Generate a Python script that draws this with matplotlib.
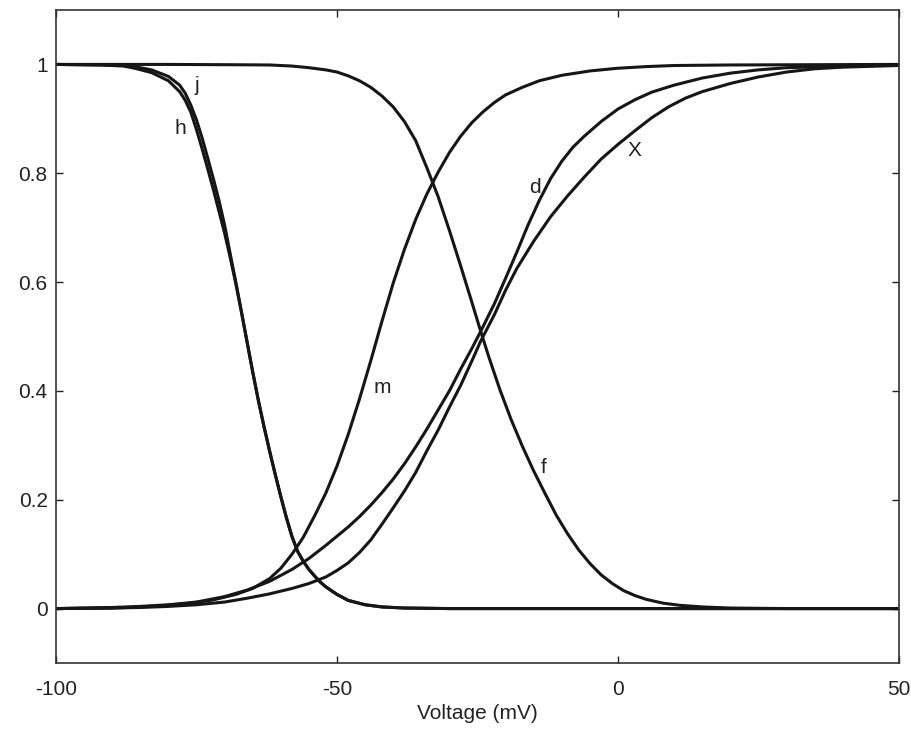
import matplotlib
matplotlib.use("Agg")
import matplotlib.pyplot as plt

# steady-state gating curves (voltage in mV)
h_v = [-100, -92, -88, -86, -83, -80, -78, -77, -76, -75, -74, -73, -72, -71,
       -70, -69, -68, -67, -66, -65, -64, -63, -62, -61, -60, -59, -58, -57,
       -56, -55, -54, -53, -52, -50, -48, -45, -42, -38, -30, 50]
h_y = [1.0, 0.999, 0.997, 0.993, 0.985, 0.97, 0.95, 0.934, 0.912, 0.88, 0.845,
       0.808, 0.77, 0.73, 0.69, 0.645, 0.597, 0.545, 0.49, 0.435, 0.383,
       0.335, 0.29, 0.247, 0.206, 0.167, 0.132, 0.105, 0.087, 0.072, 0.06,
       0.049, 0.04, 0.026, 0.015, 0.007, 0.003, 0.001, 0.0, 0.0]

j_v = [-100, -92, -88, -86, -83, -80, -78, -77, -76, -75, -74, -73, -72, -71,
       -70, -69, -68, -67, -66, -65, -64, -63, -62, -61, -60, -59, -58, -57,
       -56, -55, -54, -53, -52, -50, -48, -45, -42, -38, -30, 50]
j_y = [1.0, 0.999, 0.998, 0.996, 0.99, 0.978, 0.962, 0.947, 0.925, 0.898,
       0.865, 0.828, 0.79, 0.75, 0.705, 0.652, 0.6, 0.545, 0.49, 0.435, 0.383,
       0.335, 0.29, 0.247, 0.206, 0.167, 0.132, 0.105, 0.087, 0.072, 0.06,
       0.049, 0.04, 0.026, 0.015, 0.007, 0.003, 0.001, 0.0, 0.0]

m_v = [-100, -90, -85, -80, -76, -72, -68, -65, -62, -60, -58, -56, -54, -52,
       -50, -48, -46, -44, -42, -40, -38, -36, -34, -32, -30, -28, -26, -24,
       -22, -20, -17, -14, -10, -5, 0, 5, 10, 20, 50]
m_y = [0.0, 0.001, 0.003, 0.006, 0.01, 0.016, 0.026, 0.037, 0.055, 0.074,
       0.10, 0.131, 0.17, 0.212, 0.262, 0.32, 0.385, 0.455, 0.528, 0.598, 0.66,
       0.715, 0.762, 0.802, 0.838, 0.868, 0.893, 0.913, 0.93, 0.944, 0.958,
       0.97, 0.98, 0.988, 0.993, 0.996, 0.998, 0.999, 1.0]

d_v = [-100, -90, -85, -80, -75, -70, -66, -62, -58, -55, -52, -50, -48, -46,
       -44, -42, -40, -38, -36, -34, -32, -30, -28, -26, -24.5, -22, -20, -18,
       -16, -14, -12, -10, -8, -6, -3, 0, 3, 6, 10, 15, 20, 25, 30, 40, 50]
d_y = [0.0, 0.002, 0.004, 0.007, 0.012, 0.022, 0.034, 0.05, 0.072, 0.092,
       0.116, 0.133, 0.15, 0.169, 0.19, 0.213, 0.238, 0.266, 0.297, 0.33,
       0.365, 0.40, 0.44, 0.478, 0.508, 0.56, 0.607, 0.655, 0.705, 0.75, 0.79,
       0.822, 0.848, 0.868, 0.895, 0.918, 0.935, 0.949, 0.962, 0.975, 0.984,
       0.99, 0.994, 0.997, 0.999]

x_v = [-100, -90, -85, -80, -75, -70, -66, -62, -58, -55, -52, -50, -48, -46,
       -44, -42, -40, -38, -36, -34, -32, -30, -28, -26, -24.5, -22, -20, -18,
       -15, -12, -9, -6, -3, 0, 3, 6, 9, 12, 15, 20, 25, 30, 35, 40, 50]
x_y = [0.0, 0.001, 0.002, 0.004, 0.007, 0.012, 0.019, 0.027, 0.037, 0.046,
       0.058, 0.07, 0.084, 0.103, 0.126, 0.155, 0.185, 0.216, 0.25, 0.29,
       0.328, 0.37, 0.41, 0.455, 0.49, 0.54, 0.585, 0.625, 0.675, 0.72, 0.758,
       0.793, 0.826, 0.853, 0.878, 0.902, 0.922, 0.938, 0.95, 0.965, 0.977,
       0.986, 0.992, 0.995, 0.998]

f_v = [-100, -80, -70, -62, -58, -55, -52, -50, -48, -46, -44, -42, -40, -38,
       -36, -34, -32, -30, -28, -26, -24.5, -23, -21, -19, -17, -15, -13, -11,
       -9, -7, -5, -3, -1, 1, 3, 5, 8, 11, 15, 20, 30, 50]
f_y = [1.0, 1.0, 0.9995, 0.999, 0.997, 0.994, 0.99, 0.986, 0.979, 0.97, 0.958,
       0.942, 0.922, 0.895, 0.86, 0.81, 0.757, 0.695, 0.63, 0.563, 0.512,
       0.463, 0.402, 0.347, 0.298, 0.253, 0.212, 0.172, 0.138, 0.108, 0.083,
       0.062, 0.046, 0.033, 0.024, 0.017, 0.01, 0.006, 0.003, 0.001, 0.0, 0.0]

curves = [(h_v, h_y), (j_v, j_y), (m_v, m_y), (d_v, d_y), (x_v, x_y), (f_v, f_y)]

# curve labels and where they sit
names = ["j", "h", "m", "d", "X", "f"]
name_v = [-74.9, -77.9, -42.0, -14.8, 2.9, -13.3]
name_y = [0.962, 0.883, 0.407, 0.773, 0.842, 0.26]

xticks = [-100, -50, 0, 50]
yticks = [0, 0.2, 0.4, 0.6, 0.8, 1]
ytick_labels = ["0", "0.2", "0.4", "0.6", "0.8", "1"]

plt.rcParams["font.family"] = ["Liberation Sans", "DejaVu Sans"]
plt.rcParams["axes.unicode_minus"] = False

fig = plt.figure(figsize=(9.12, 7.36), dpi=100)
ax = fig.add_axes([0.0614, 0.0992, 0.9243, 0.8872])

for v, y in curves:
    ax.plot(v, y, color="#161616", lw=2.2, solid_joinstyle="round",
            solid_capstyle="round")

for n, v, y in zip(names, name_v, name_y):
    ax.text(v, y, n, fontsize=15, ha="center", va="center", color="#222222")

ax.set_xlim(-100, 50)
ax.set_ylim(-0.1, 1.1)
ax.set_xticks(xticks)
ax.set_xticklabels([str(t) for t in xticks])
ax.set_yticks(yticks)
ax.set_yticklabels(ytick_labels)
ax.tick_params(direction="in", length=5, width=1, top=True, right=True,
               labelsize=15, colors="#222222")
ax.tick_params(axis="x", pad=12)
ax.tick_params(axis="y", pad=6)
for s in ax.spines.values():
    s.set_linewidth(1.2)
    s.set_color("#333333")

ax.set_xlabel("Voltage (mV)", fontsize=15, color="#222222", labelpad=4)

fig.savefig("out.png", dpi=100)
